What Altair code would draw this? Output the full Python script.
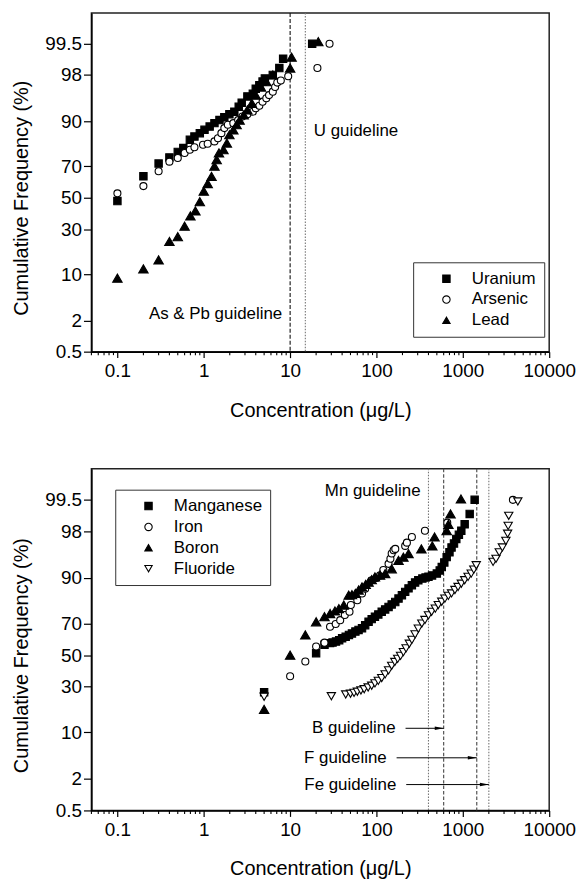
import altair as alt
import pandas as pd
from statistics import NormalDist

FONT = "Liberation Sans"

# ---------------- data ----------------
# Top panel
uranium_conc = [0.1, 0.2, 0.3, 0.4, 0.5, 0.58, 0.69, 0.78, 0.9, 1.02, 1.17, 1.33, 1.52, 1.73, 1.98,
                2.26, 2.54, 2.75, 3.2, 3.7, 4.0, 4.4, 4.8, 5.1, 6.3, 7.5, 8.3, 18]
uranium_pct = [47.8, 64, 71.6, 75, 77.8, 79.7, 83.4, 84.7, 86, 87.2, 88.3, 89.4, 90.3, 91.1, 91.9,
               92.5, 93.6, 94.4, 95.5, 95.9, 96.6, 97.0, 97.4, 97.7, 98, 98.5, 99, 99.5]

arsenic_conc = [0.1, 0.2, 0.3, 0.4, 0.5, 0.6, 0.69, 0.78, 0.98, 1.11, 1.33, 1.46, 1.6, 1.73, 1.9,
                2.2, 2.5, 2.8, 3.2, 3.7, 4.0, 4.4, 4.8, 5.3, 5.7, 6.3, 6.7, 7.1, 7.8, 9.5, 20.7, 28.6]
arsenic_pct = [52.9, 57.7, 67.1, 72.7, 74.7, 77.3, 78.9, 80.1, 81.2, 81.7, 82.7, 84, 86, 87.8, 88.9,
               89.4, 90.3, 91.3, 91.9, 92.5, 93.3, 93.8, 94.6, 95.2, 95.7, 96.2, 96.8, 97.3, 97.5, 97.9,
               98.5, 99.5]

lead_conc = [0.1, 0.2, 0.3, 0.4, 0.5, 0.6, 0.7, 0.8, 0.9, 1.0, 1.11, 1.23, 1.33, 1.41, 1.5,
             1.69, 1.85, 1.98, 2.2, 2.4, 2.6, 2.9, 3.2, 3.6, 4.0, 4.6, 5.3, 6.3, 10, 10.4, 21.2]
lead_pct = [8.9, 11.7, 14.9, 23.2, 25.7, 31.7, 38, 41.3, 47.4, 54.4, 59.4, 63.9, 70.1, 73.8, 77.3,
            78.9, 82, 85.4, 87.2, 88.9, 90.3, 91.7, 92.9, 94.3, 95.7, 96.8, 97.4, 98, 98.5, 99.07, 99.55]

# Bottom panel
mn_conc = [5, 20, 25, 29, 31, 34, 37, 40, 44, 48, 52, 57, 62, 68, 74, 81, 88, 96, 105, 115, 126, 138,
           150, 165, 180, 197, 215, 235, 257, 280, 305, 340, 370, 400, 440, 500, 540, 570, 610, 650,
           700, 740, 790, 840, 900, 960, 1050, 1200, 1370]
mn_pct = [26.9, 51.3, 56.8, 57.9, 58.3, 58.9, 59.8, 61, 62, 63.1, 64, 65.2, 66.2, 67.2, 69, 71, 72.5,
          73.8, 75, 76.4, 77.6, 78.8, 80, 81.1, 82.6, 84, 85.3, 86.6, 87.7, 88.6, 89.3, 89.8, 90.1, 90.3,
          90.7, 91.2, 92, 92.8, 93.8, 94.8, 95.6, 96.3, 96.8, 97.3, 97.7, 98.05, 98.5, 99.04, 99.5]

fe_conc = [10, 15, 20, 25, 29, 33.7, 38, 43, 48.7, 50.5, 60, 68, 74, 88, 100, 110, 120, 138, 145, 150,
           158, 165, 215, 225, 257, 364, 660, 3800]
fe_pct = [36.3, 45.8, 55.7, 58.2, 68.1, 69.7, 71.9, 74.7, 76.4, 79.7, 81.9, 84.7, 86.5, 89.3, 90, 90.7,
          92.1, 93.5, 94.5, 95.4, 95.9, 96.1, 96.5, 96.9, 97.5, 98.05, 98.6, 99.5]

b_conc = [5, 10, 15, 20, 25, 29, 33, 36.7, 41.8, 47.7, 52, 57, 62, 68, 75, 81, 88, 96, 110, 126, 150,
          180, 205, 235, 331, 443, 470, 650, 680, 720, 950]
b_pct = [18.4, 50, 63.1, 71, 73.8, 75.5, 76.8, 78, 79.7, 84, 84.2, 84.7, 86, 87.1, 88, 88.7, 89.5,
         90.3, 90.8, 91.2, 92.4, 94.2, 94.8, 95.4, 96.1, 96.5, 97.5, 98.05, 98.5, 99.04, 99.52]

f_conc = [5, 30, 44, 50, 55, 60, 66, 72, 80, 88, 96, 105, 115, 126, 138, 150, 163, 176, 190, 205, 220,
          240, 257, 280, 305, 335, 364, 400, 435, 480, 520, 570, 620, 680, 740, 810, 880, 960, 1050,
          1150, 1250, 1340, 1430, 2240, 2420, 2640, 2870, 3150, 3300, 3350, 3400, 4330]
f_pct = [24.5, 24.8, 25.7, 26.1, 26.6, 27.2, 27.9, 28.6, 29.6, 30.6, 32, 33.5, 35.2, 37.5, 40, 43,
         45.5, 47.5, 49.5, 52, 54.5, 57.5, 60, 63.5, 67, 70, 72, 74.5, 76.4, 78, 79.7, 81.2, 82.6,
         83.7, 84.7, 86, 87.1, 88.2, 89.3, 90.3, 91.2, 92.2, 93.2, 93.9, 94.5, 95.6, 96.3, 97.1, 97.8,
         98.4, 98.96, 99.46]

# guidelines (ug/L)
top_dashed = [10]      # As & Pb
top_dotted = [15]      # U
bot_dashed = [600, 1450]   # B, F
bot_dotted = [400, 2000]   # Mn, Fe

# annotation texts
top_text_left = {"label": ["As & Pb guideline"], "x": [10], "pct": [2.6]}
top_text_right = {"label": ["U guideline"], "x": [15], "pct": [86.6]}
mn_text = {"label": ["Mn guideline"], "x": [400], "pct": [99.68]}
arrow_label = ["B guideline", "F guideline", "Fe guideline"]
arrow_start = [217, 171, 221]
arrow_end = [600, 1450, 2000]
arrow_pct = [11.25, 4.43, 1.59]

x_ticks = [0.1, 1, 10, 100, 1000, 10000]
minor_ticks = [k * 10 ** e for e in range(-2, 4) for k in range(2, 10) if 0.05 <= k * 10 ** e < 10000]
y_ticks = [0.5, 2, 10, 30, 50, 70, 90, 98, 99.5]

# ---------------- chart ----------------
W = 461
H_TOP, H_BOT = 341, 344
nd = NormalDist()
zq = lambda p: nd.inv_cdf(p / 100.0)
Z_LO, Z_HI = zq(0.5), zq(99.9)

xscale = alt.Scale(type="log", domain=[0.05, 10000], nice=False)
yscale = alt.Scale(domain=[Z_LO, Z_HI], nice=False, zero=False)

x_axis = alt.Axis(values=x_ticks, labelExpr="format(datum.value, '~g')",
                  title="Concentration (\u03bcg/L)", tickSize=6, labelPadding=4, titlePadding=20,
                  labelFlush=False, labelOverlap=False, grid=False,
                  domainColor="black", tickColor="black", domainWidth=1.5, tickWidth=1.2,
                  labelFontSize=19, titleFontSize=20, titleFontWeight="normal",
                  labelFont=FONT, titleFont=FONT, labelColor="black", titleColor="black")


def y_axis(h):
    return alt.Axis(values=[zq(v) for v in y_ticks],
                    labelExpr="format(cumulativeNormal(datum.value)*100, '.3~g')",
                    title="Cumulative Frequency (%)", titleX=-64, titleY=h * Z_HI / (Z_HI - Z_LO),
                    titleAngle=-90, titleBaseline="alphabetic", titleAlign="center",
                    tickSize=8, labelPadding=2, grid=False, labelOverlap=False,
                    domainColor="black", tickColor="black", domainWidth=1.5, tickWidth=1.2,
                    labelFontSize=19, titleFontSize=20, titleFontWeight="normal",
                    labelFont=FONT, titleFont=FONT, labelColor="black", titleColor="black")


def long_df(pairs):
    rows = []
    for name, c, p in pairs:
        for ci, pi in zip(c, p):
            rows.append({"series": name, "conc": ci, "pct": pi})
    return pd.DataFrame(rows)


def legend(lx, ly):
    return alt.Legend(orient="none", legendX=lx, legendY=ly, title=None, strokeColor="#333",
                      fillColor="white", padding=8, symbolOffset=17, labelOffset=17, rowPadding=3,
                      labelFontSize=17, labelFont=FONT, labelColor="black", symbolSize=55,
                      symbolStrokeColor="black", symbolStrokeWidth=1.1)


def points_layer(df, names, shapes, fills, sizes, h, lx, ly):
    size_map = "{" + ",".join(f"'{n}':{s}" for n, s in zip(names, sizes)) + "}"
    leg = legend(lx, ly)
    return alt.Chart(df).transform_calculate(
        z="quantileNormal(datum.pct/100)",
        sz=f"{size_map}[datum.series]",
    ).mark_point(filled=True, strokeWidth=1.1, opacity=1).encode(
        x=alt.X("conc:Q", scale=xscale, axis=x_axis),
        y=alt.Y("z:Q", scale=yscale, axis=y_axis(h)),
        shape=alt.Shape("series:N", scale=alt.Scale(domain=names, range=shapes), legend=leg),
        fill=alt.Fill("series:N", scale=alt.Scale(domain=names, range=fills), legend=leg),
        stroke=alt.Stroke("series:N", scale=alt.Scale(domain=names, range=["black"] * len(names)),
                          legend=leg),
        size=alt.Size("sz:Q", scale=None),
    )


def vrules(vals, dash, color):
    return alt.Chart(pd.DataFrame({"g": vals})).mark_rule(
        strokeDash=dash, color=color, strokeWidth=1.1
    ).encode(x=alt.X("g:Q", scale=xscale))


def minor_layer(h):
    return alt.Chart(pd.DataFrame({"m": minor_ticks})).mark_rule(color="black", strokeWidth=1.1).encode(
        x=alt.X("m:Q", scale=xscale), y=alt.value(h), y2=alt.value(h + 3.5))


def text_layer(d, align, dx):
    return alt.Chart(pd.DataFrame(d)).transform_calculate(
        z="quantileNormal(datum.pct/100)"
    ).mark_text(align=align, dx=dx, baseline="middle", fontSize=17, font=FONT, color="black").encode(
        x=alt.X("x:Q", scale=xscale), y=alt.Y("z:Q", scale=yscale), text="label:N")


# top panel
top_df = long_df([("Uranium", uranium_conc, uranium_pct),
                  ("Arsenic", arsenic_conc, arsenic_pct),
                  ("Lead", lead_conc, lead_pct)])
top = alt.layer(
    vrules(top_dashed, [4, 2], "#111"),
    vrules(top_dotted, [1.5, 1.5], "#777"),
    minor_layer(H_TOP),
    text_layer(top_text_left, "right", -8),
    text_layer(top_text_right, "left", 8.5),
    points_layer(top_df, ["Uranium", "Arsenic", "Lead"], ["square", "circle", "triangle-up"],
                 ["black", "white", "black"], [55, 50, 90], H_TOP, 324, 251),
).properties(width=W, height=H_TOP)

# bottom panel
bot_df = long_df([("Manganese", mn_conc, mn_pct),
                  ("Iron", fe_conc, fe_pct),
                  ("Boron", b_conc, b_pct),
                  ("Fluoride", f_conc, f_pct)])
arrows = pd.DataFrame({"label": arrow_label, "x0": arrow_start, "x1": arrow_end, "pct": arrow_pct})
arrow_base = alt.Chart(arrows).transform_calculate(z="quantileNormal(datum.pct/100)")
arrow_lines = arrow_base.mark_rule(color="black", strokeWidth=1).encode(
    x=alt.X("x0:Q", scale=xscale), x2="x1:Q", y=alt.Y("z:Q", scale=yscale))
arrow_heads = arrow_base.mark_point(shape="M-1,-0.2L0,0L-1,0.2Z", filled=True, color="black",
                                    size=324, opacity=1).encode(
    x=alt.X("x1:Q", scale=xscale), y=alt.Y("z:Q", scale=yscale))
arrow_text = arrow_base.mark_text(align="right", dx=-10, baseline="middle", fontSize=17, font=FONT,
                                  color="black").encode(
    x=alt.X("x0:Q", scale=xscale), y=alt.Y("z:Q", scale=yscale), text="label:N")

bottom = alt.layer(
    vrules(bot_dotted, [1.5, 1.5], "#777"),
    vrules(bot_dashed, [3.5, 2], "#444"),
    minor_layer(H_BOT),
    text_layer(mn_text, "right", -8),
    arrow_lines, arrow_heads, arrow_text,
    points_layer(bot_df, ["Manganese", "Iron", "Boron", "Fluoride"],
                 ["square", "circle", "triangle-up", "triangle-down"],
                 ["black", "white", "black", "white"], [55, 50, 90, 70], H_BOT, 24, 21),
).properties(width=W, height=H_BOT)

chart = alt.vconcat(top, bottom, spacing=46).resolve_scale(
    shape="independent", fill="independent", stroke="independent"
).resolve_legend(shape="independent", fill="independent", stroke="independent").properties(
    padding={"left": 3, "top": 0, "right": 0, "bottom": 0}, background="white"
).configure_view(stroke="#222", strokeWidth=1.5)

chart.save("out.html", embed_options={"renderer": "svg", "actions": False})
